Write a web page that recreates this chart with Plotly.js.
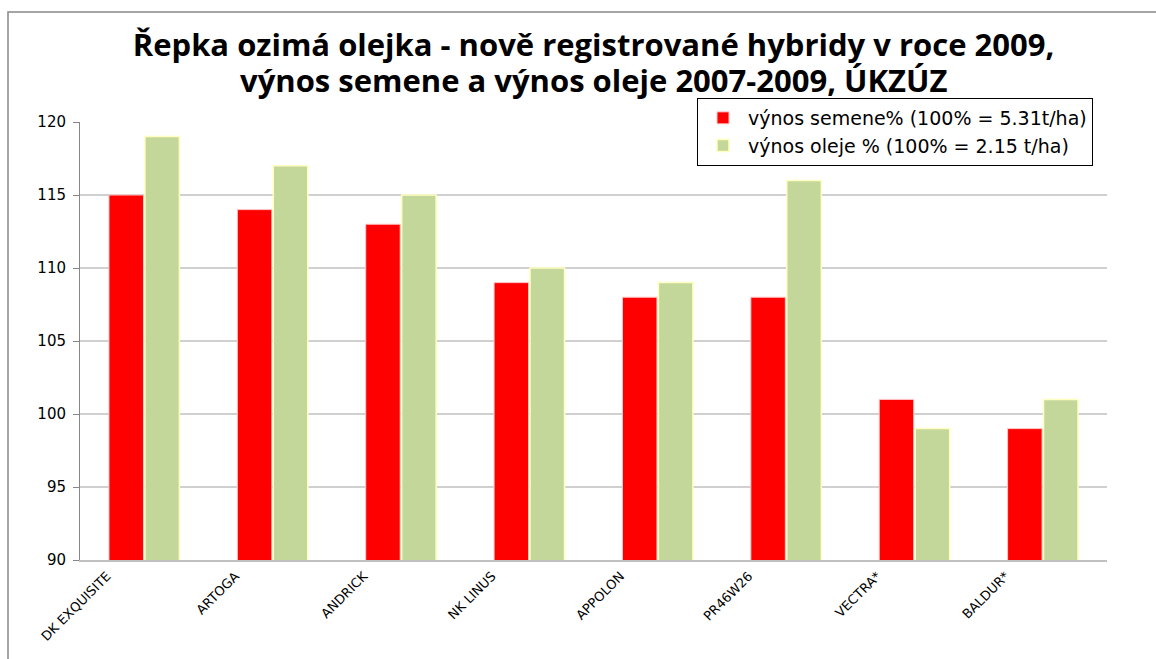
<!DOCTYPE html>
<html>
<head>
<meta charset="utf-8">
<script src="https://cdn.plot.ly/plotly-3.0.1.min.js"></script>
<style>html,body{margin:0;padding:0;background:#fff;}#chart{width:1156px;height:659px;}</style>
</head>
<body>
<div id="chart"></div>
<script>
const categories = ["DK EXQUISITE", "ARTOGA", "ANDRICK", "NK LINUS", "APPOLON", "PR46W26", "VECTRA*", "BALDUR*"];
const seedYield = [115, 114, 113, 109, 108, 108, 101, 99];
const oilYield = [119, 117, 115, 110, 109, 116, 99, 101];
const seriesNames = ["výnos semene% (100% = 5.31t/ha)", "výnos oleje % (100% = 2.15 t/ha)"];
const yTicks = [90, 95, 100, 105, 110, 115, 120];
const titleLines = ["Řepka ozimá olejka - nově registrované hybridy v roce 2009,", "výnos semene a výnos oleje 2007-2009, ÚKZÚZ"];

const W = 1156, H = 659, L = 80, R = 49, T = 122, B = 99;
const pw = W - L - R, ph = H - T - B;
const px = v => (v - L) / pw;
const py = v => (H - B - v) / ph;
const idx = categories.map((c, i) => i);
const labelShift = 0.29; // category units, Excel-style offset of rotated labels
const titleFont = {family: "Open Sans", size: 31, color: "#000", weight: 700};

const traces = [
  {type: "bar", name: seriesNames[0], x: idx, y: seedYield,
   marker: {color: "#FF0000", line: {color: "#FFC8C8", width: 1}}},
  {type: "bar", name: seriesNames[1], x: idx, y: oilYield,
   marker: {color: "#C4D79B", line: {color: "#FFFFC0", width: 1.5}}},
  {type: "scatter", mode: "markers", x: idx, y: idx.map(() => null),
   xaxis: "x2", yaxis: "y", showlegend: false, hoverinfo: "skip"}
];

const layout = {
  width: W, height: H,
  margin: {l: L, r: R, t: T, b: B, pad: 0},
  paper_bgcolor: "#fff", plot_bgcolor: "#fff",
  barmode: "group", bargap: 0.44, bargroupgap: 0.04,
  showlegend: true,
  title: {
    text: titleLines[0],
    font: titleFont,
    xref: "paper", x: 0.5, xanchor: "center", yref: "container", y: 1 - 45 / H, yanchor: "middle"
  },
  annotations: [
    {text: titleLines[1], font: titleFont, showarrow: false,
     xref: "paper", x: 0.5, xanchor: "center", yref: "paper", y: py(80), yanchor: "middle"}
  ],
  xaxis: {
    type: "linear", range: [-0.5, categories.length - 0.5],
    showticklabels: false,
    showline: true, linecolor: "#BFBFBF", linewidth: 2,
    ticks: "", showgrid: false, zeroline: false, fixedrange: true
  },
  xaxis2: {
    type: "linear", overlaying: "x", anchor: "y", side: "bottom",
    range: [-0.5 + labelShift, categories.length - 0.5 + labelShift],
    tickmode: "array", tickvals: idx, ticktext: categories,
    tickangle: -45, ticklabelstandoff: 5,
    tickfont: {family: "DejaVu Sans", size: 13, color: "#000"},
    showline: false, ticks: "", showgrid: false, zeroline: false
  },
  yaxis: {
    range: [90, 120], tickvals: yTicks, ticktext: yTicks.map(String),
    tickfont: {family: "DejaVu Sans", size: 15, color: "#000"},
    showline: true, linecolor: "#868686", linewidth: 1,
    ticks: "outside", ticklen: 6, tickcolor: "#868686",
    ticklabelstandoff: 4,
    showgrid: true, gridcolor: "#D0D0D0", gridwidth: 1.5,
    zeroline: false
  },
  legend: {
    x: px(697), y: py(98), xanchor: "left", yanchor: "top",
    bgcolor: "#fff", bordercolor: "#000", borderwidth: 1,
    font: {family: "DejaVu Sans", size: 19, color: "#000"},
    traceorder: "normal", tracegroupgap: 0, itemwidth: 40
  },
  shapes: [
    {type: "path", xref: "paper", yref: "paper",
     path: `M ${px(8)} ${py(H + 5)} L ${px(8)} ${py(12)} L ${px(W + 5)} ${py(12)}`,
     line: {color: "#888", width: 1.5}}
  ]
};

Plotly.newPlot("chart", traces, layout, {displayModeBar: false, staticPlot: true});
</script>
</body>
</html>
